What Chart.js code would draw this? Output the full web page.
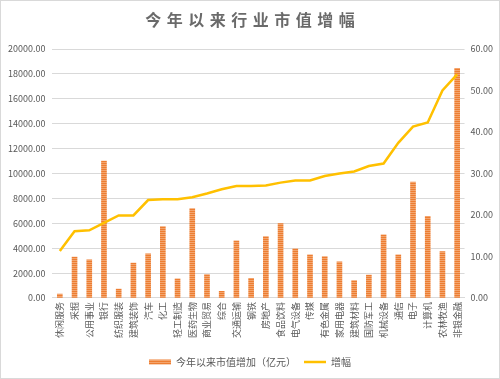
<!DOCTYPE html>
<html><head><meta charset="utf-8">
<script src="https://cdn.jsdelivr.net/npm/chart.js@4/dist/chart.umd.min.js"></script>
<style>
html,body{margin:0;padding:0;background:#fff;}
#wrap{position:relative;width:498px;height:377px;border:1px solid #D9D9D9;}
</style></head><body>
<div id="wrap"><canvas id="c"></canvas></div>
<script>
const chartTitle = '今年以来行业市值增幅';
const categories = ['休闲服务','采掘','公用事业','银行','纺织服装','建筑装饰','汽车','化工','轻工制造','医药生物','商业贸易','综合','交通运输','钢铁','房地产','食品饮料','电气设备','传媒','有色金属','家用电器','建筑材料','国防军工','机械设备','通信','电子','计算机','农林牧渔','非银金融'];
const marketValueIncrease = [320,3280,3060,11000,720,2800,3540,5740,1530,7190,1880,540,4590,1580,4930,5980,3950,3460,3330,2900,1400,1850,5070,3460,9310,6550,3730,18450];
const growthPct = [11.3,16.1,16.3,18.1,19.9,19.9,23.6,23.8,23.8,24.3,25.2,26.2,27.0,27.0,27.1,27.8,28.3,28.3,29.4,30.0,30.5,31.8,32.4,37.4,41.3,42.3,50.0,53.9];
const leftTicks = [0,2000,4000,6000,8000,10000,12000,14000,16000,18000,20000];
const rightTicks = [0,10,20,30,40,50,60];

function stripePattern(){
  const p = document.createElement('canvas');
  p.width = 4; p.height = 2;
  const g = p.getContext('2d');
  g.fillStyle = '#ED7D31'; g.fillRect(0,0,4,1);
  g.fillStyle = '#F3A56E'; g.fillRect(0,1,4,1);
  return g.createPattern(p,'repeat');
}
const ctx = document.getElementById('c').getContext('2d');
const pat = stripePattern();
const font = "'Noto Sans CJK SC','Noto Sans',sans-serif";

const spacedTitle = {
  id:'spacedTitle',
  afterDraw(chart){
    const c = chart.ctx;
    c.save();
    c.font = "bold 16px " + font;
    c.fillStyle = '#6A6A6A';
    c.textAlign = 'center';
    c.textBaseline = 'middle';
    try { c.letterSpacing = '5.5px'; } catch(e){}
    c.fillText(chartTitle, chart.width/2 + 2.75, 19);
    c.restore();
  }
};

new Chart(ctx,{
  data:{
    labels:categories,
    datasets:[
      {type:'bar',label:'今年以来市值增加（亿元）',data:marketValueIncrease,backgroundColor:pat,borderWidth:0,barThickness:5,yAxisID:'y',order:2,pointStyle:'rect'},
      {type:'line',label:'增幅',data:growthPct,borderColor:'#FFC000',backgroundColor:'#FFC000',borderWidth:2.5,pointRadius:0,tension:0,yAxisID:'y1',order:1,pointStyle:'line'}
    ]
  },
  plugins:[spacedTitle],
  options:{
    responsive:true,maintainAspectRatio:false,animation:false,
    layout:{padding:{left:0,right:0,top:48,bottom:1}},
    plugins:{
      title:{display:false},
      legend:{position:'bottom',labels:{color:'#595959',font:{family:font,size:10},usePointStyle:true,pointStyleWidth:22,boxHeight:5,boxWidth:22,padding:8,sort:(a,b)=>a.datasetIndex-b.datasetIndex}},
      tooltip:{enabled:false}
    },
    scales:{
      x:{grid:{display:false,drawTicks:false},border:{color:'#D9D9D9'},afterFit:s=>{s.height+=7;},ticks:{color:'#595959',font:{family:font,size:9},minRotation:90,maxRotation:90,autoSkip:false,padding:4}},
      y:{position:'left',min:0,max:20000,afterBuildTicks:a=>{a.ticks=leftTicks.map(v=>({value:v}));},grid:{color:'#D9D9D9',drawTicks:false},border:{display:false},ticks:{color:'#595959',font:{family:font,size:9},padding:7,callback:v=>v.toFixed(2)}},
      y1:{position:'right',min:0,max:60,afterBuildTicks:a=>{a.ticks=rightTicks.map(v=>({value:v}));},grid:{display:false,drawTicks:false},border:{display:false},ticks:{color:'#595959',font:{family:font,size:9},padding:6,callback:v=>v.toFixed(2)}}
    }
  }
});
</script></body></html>
